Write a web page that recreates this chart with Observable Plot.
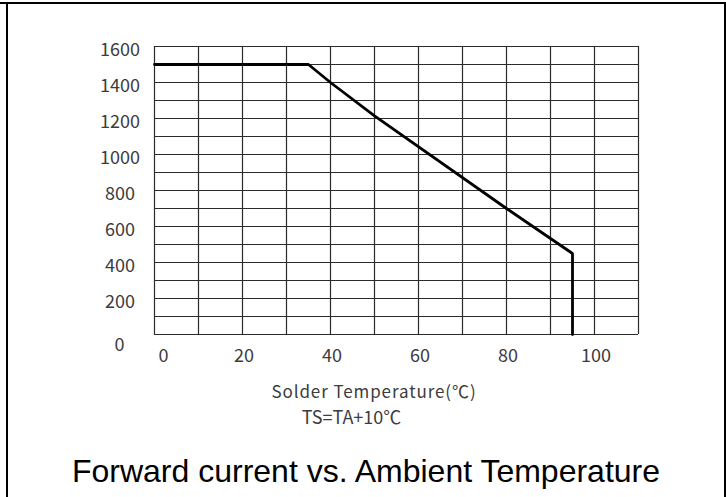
<!DOCTYPE html>
<html>
<head>
<meta charset="utf-8">
<script src="https://cdn.jsdelivr.net/npm/d3@7"></script>
<script src="https://cdn.jsdelivr.net/npm/@observablehq/plot@0.6"></script>
<style>
  html, body { margin: 0; padding: 0; background: #fff; }
  #wrap { position: relative; width: 726px; height: 497px; overflow: hidden; background: #fff; }
  .bd { position: absolute; background: #000; }
  #chart { position: absolute; left: 0; top: 0; }
  #title { position: absolute; left: 0; width: 732px; top: 455px; text-align: center;
           font-family: "Liberation Sans", Arial, sans-serif; font-size: 32px; line-height: 1; color: #000; }
</style>
</head>
<body>
<div id="wrap">
  <div id="chart"></div>
  <div class="bd" style="left:0;top:2px;width:726px;height:2px"></div>
  <div class="bd" style="left:6px;top:2px;width:2px;height:495px"></div>
  <div class="bd" style="left:724px;top:2px;width:2px;height:495px"></div>
  <div id="title">Forward current vs. Ambient Temperature</div>
</div>
<script>
// Derating curve
const tempC     = [0,    35,   40,   50,   80,  95,  95];
const currentMa = [1500, 1500, 1400, 1215, 700, 450, 0];

// Grid and tick labels
const xGrid  = d3.range(0, 111, 10);
const yGrid  = d3.range(0, 1601, 100);
const xTicks = [0, 20, 40, 60, 80, 100];
const yTicks = [0, 200, 400, 600, 800, 1000, 1200, 1400, 1600];

const xTitle = "Solder Temperature(\u2103)";
const xNote  = "TS=TA+10\u2103";

const curve = tempC.map((t, i) => ({t, i: currentMa[i]}));
const tickFont = "'Noto Sans CJK SC', 'Noto Sans', sans-serif";

const plot = Plot.plot({
  width: 726,
  height: 440,
  marginLeft: 154,
  marginRight: 88,
  marginTop: 46,
  marginBottom: 106,
  x: {domain: [0, 110], axis: null},
  y: {domain: [0, 1600], axis: null},
  style: {background: "transparent"},
  marks: [
    Plot.ruleX(xGrid, {x: d => d, stroke: "#2b2b2b", strokeWidth: 1.2}),
    Plot.ruleY(yGrid, {y: d => d, stroke: "#2b2b2b", strokeWidth: 1.2}),
    Plot.line(curve, {x: "t", y: "i", stroke: "#000", strokeWidth: 2.8, strokeLinejoin: "miter"}),
    // y tick labels
    Plot.text(yTicks.filter(d => d !== 0), {y: d => d, text: d => String(d), frameAnchor: "left", dx: -34.5, dy: 3.5,
      textAnchor: "middle", fontSize: 18, fill: "#3c3c3c", fontFamily: tickFont}),
    Plot.text(yTicks.filter(d => d === 0), {y: d => d, text: d => String(d), frameAnchor: "left", dx: -35, dy: 11,
      textAnchor: "middle", fontSize: 18, fill: "#3c3c3c", fontFamily: tickFont}),
    // x tick labels
    Plot.text(xTicks.filter(d => d !== 0), {x: d => d, text: d => String(d), frameAnchor: "bottom", dy: 27, dx: 1.5,
      textAnchor: "middle", fontSize: 18, fill: "#3c3c3c", fontFamily: tickFont}),
    Plot.text(xTicks.filter(d => d === 0), {x: d => d, text: d => String(d), frameAnchor: "bottom", dy: 27, dx: 9,
      textAnchor: "middle", fontSize: 18, fill: "#3c3c3c", fontFamily: tickFont}),
    // axis title and note
    Plot.text([xTitle], {text: d => d, frameAnchor: "bottom", dx: -22.5, dy: 63, textAnchor: "middle",
      fontSize: 17, fill: "#3c3c3c", fontFamily: tickFont}),
    Plot.text([xNote], {text: d => d, frameAnchor: "bottom", dx: -45, dy: 89, textAnchor: "middle",
      fontSize: 18, fill: "#3c3c3c", fontFamily: tickFont})
  ]
});
document.getElementById("chart").appendChild(plot);
d3.select(plot).selectAll("text").filter(function() { return this.textContent === xTitle; })
  .style("letter-spacing", "0.9px");
</script>
</body>
</html>
